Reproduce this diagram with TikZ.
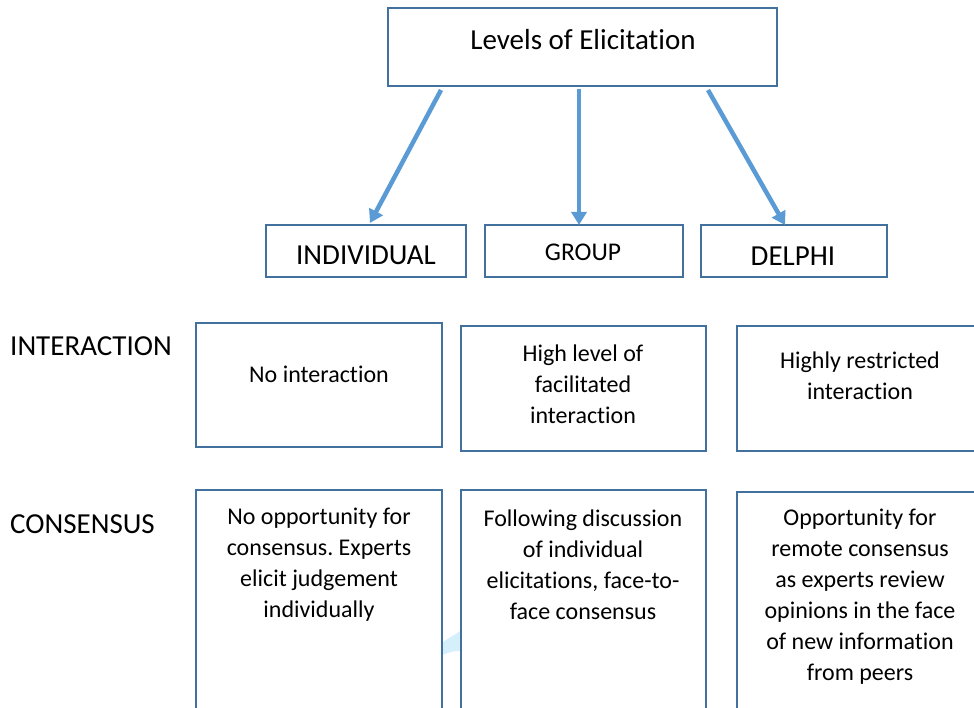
\documentclass[tikz,border=0pt]{standalone}
\usepackage{fontspec}
\setmainfont{Carlito}[Ligatures={NoCommon,NoContextual},RawFeature=-calt]
\usetikzlibrary{arrows.meta}
\definecolor{boxblue}{HTML}{41719C}
\definecolor{arrblue}{HTML}{5B9BD5}
\definecolor{faint}{HTML}{D5EFFB}
\frenchspacing
\begin{document}
\begin{tikzpicture}[x=1pt,y=-1pt,
  box/.style={draw=boxblue,line width=2pt,inner sep=0pt,fill=white},
  arr/.style={draw=arrblue,line width=4.5pt,-{Triangle[width=15pt,length=13pt]}},
  txt/.style={align=center,font=\fontsize{24}{31}\selectfont,inner sep=0pt},
  big/.style={font=\fontsize{29}{34}\selectfont,inner sep=0pt}]
\clip (0,0) rectangle (974,708);
\fill[white] (0,0) rectangle (974,708);
\fill[faint] (430,650) -- (462,630) -- (462,651) .. controls (452,651) .. (430,660) -- cycle;
% top
\node[box,minimum width=389pt,minimum height=78pt] (top) at (582.5,47) {};
\node[big] (toptxt) at (583,40) {Levels of Elicitation};
% level boxes
\node[box,minimum width=200pt,minimum height=52pt] (ind) at (366,251) {};
\node[box,minimum width=198pt,minimum height=52pt] (grp) at (584,251) {};
\node[box,minimum width=186pt,minimum height=52pt] (del) at (794,251) {};
\node[big] (indtxt) at (366,255) {INDIVIDUAL};
\node[font=\fontsize{25.5}{30}\selectfont,inner sep=0pt] (grptxt) at (583,252) {GROUP};
\node[big] (deltxt) at (793,256) {DELPHI};
% arrows
\draw[arr] ([shift={(-141.5,3)}]top.south) -- ([shift={(4,-1)}]ind.north);
\draw[arr] ([shift={(-3.5,2)}]top.south) -- ([shift={(-5,1)}]grp.north);
\draw[arr] ([shift={(125.5,3)}]top.south) -- ([shift={(-9,1)}]del.north);
% row labels
\node[big,anchor=west] (lint) at (10,346) {INTERACTION};
\node[big,anchor=west] (lcon) at (10,524) {CONSENSUS};
% interaction row
\node[box,minimum width=246pt,minimum height=124pt] (i1) at (319,385) {};
\node[box,minimum width=245pt,minimum height=125pt] (i2) at (583.5,388.5) {};
\node[box,minimum width=253pt,minimum height=125pt] (i3) at (863.5,388.5) {};
\node[txt] (i1t) at (319,374) {No interaction};
\node[txt] (i2t) at (583,384) {High level of\\facilitated\\interaction};
\node[txt] (i3t) at (860,376) {Highly restricted\\interaction};
% consensus row
\node[box,minimum width=246pt,minimum height=230pt] (c1) at (319,605) {};
\node[box,minimum width=245pt,minimum height=230pt] (c2) at (583.5,605) {};
\node[box,minimum width=253pt,minimum height=228pt] (c3) at (863.5,606) {};
\node[txt] (c1t) at (319,565) {No opportunity for\\consensus. Experts\\elicit judgement\\individually};
\node[txt] (c2t) at (583,565) {Following discussion\\of individual\\elicitations, face-to-\\face consensus};
\node[txt] (c3t) at (860,596.5) {Opportunity for\\remote consensus\\as experts review\\opinions in the face\\of new information\\from peers};
\end{tikzpicture}
\end{document}
